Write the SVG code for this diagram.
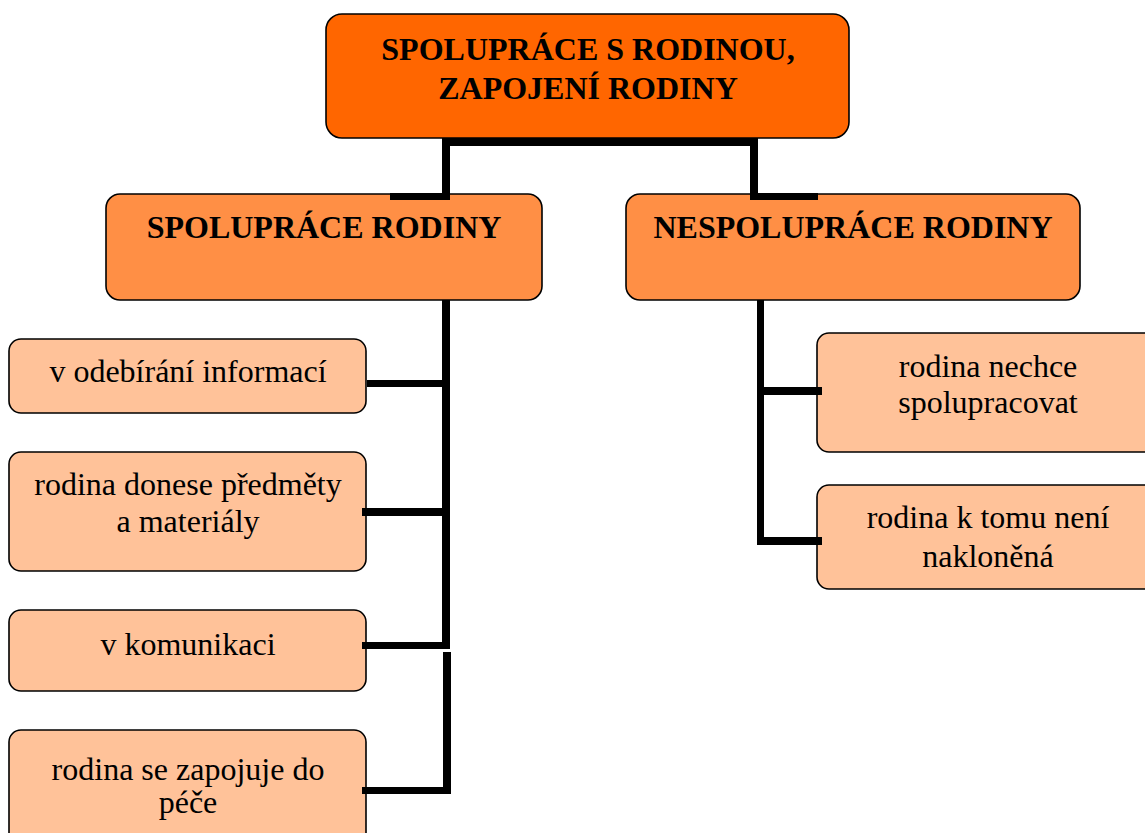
<svg xmlns="http://www.w3.org/2000/svg" width="1145" height="833" viewBox="0 0 1145 833">
  <style>
    .box { stroke: #000; stroke-width: 1.6; }
    .root { fill: #FF6600; }
    .mid { fill: #FF8F45; }
    .leaf { fill: #FFC299; }
    .bar { fill: #000; }
  </style>
  <rect width="1145" height="833" fill="#fff"/>

  <!-- root -->
  <g id="root" font-family="Liberation Serif, Tinos, DejaVu Serif, serif" font-weight="bold" font-size="32" text-anchor="middle">
    <rect class="box root" x="326" y="14" width="523" height="124" rx="16"/>
    <text x="588" y="60">SPOLUPRÁCE S RODINOU,</text>
    <text x="588" y="99">ZAPOJENÍ RODINY</text>
  </g>

  <!-- second level -->
  <g id="spoluprace" font-family="Liberation Serif, Tinos, DejaVu Serif, serif" font-weight="bold" font-size="32" text-anchor="middle">
    <rect class="box mid" x="106" y="194" width="436" height="106" rx="14"/>
    <text x="324" y="238">SPOLUPRÁCE RODINY</text>
  </g>
  <g id="nespoluprace" font-family="Liberation Serif, Tinos, DejaVu Serif, serif" font-weight="bold" font-size="32" text-anchor="middle">
    <rect class="box mid" x="626" y="194" width="454" height="106" rx="14"/>
    <text x="853" y="238">NESPOLUPRÁCE RODINY</text>
  </g>

  <!-- left leaves -->
  <g id="informace" font-family="Liberation Serif, Tinos, DejaVu Serif, serif" font-size="32" text-anchor="middle">
    <rect class="box leaf" x="9" y="339" width="357" height="74" rx="12"/>
    <text x="188" y="382">v odebírání informací</text>
  </g>
  <g id="predmety" font-family="Liberation Serif, Tinos, DejaVu Serif, serif" font-size="32" text-anchor="middle">
    <rect class="box leaf" x="9" y="452" width="357" height="119" rx="12"/>
    <text x="188" y="495">rodina donese předměty</text>
    <text x="188" y="532">a materiály</text>
  </g>
  <g id="komunikace" font-family="Liberation Serif, Tinos, DejaVu Serif, serif" font-size="32" text-anchor="middle">
    <rect class="box leaf" x="9" y="610" width="357" height="81" rx="12"/>
    <text x="188" y="655">v komunikaci</text>
  </g>
  <g id="pece" font-family="Liberation Serif, Tinos, DejaVu Serif, serif" font-size="32" text-anchor="middle">
    <rect class="box leaf" x="9" y="730" width="357" height="120" rx="12"/>
    <text x="188" y="780">rodina se zapojuje do</text>
    <text x="188" y="813">péče</text>
  </g>

  <!-- right leaves -->
  <g id="nechce" font-family="Liberation Serif, Tinos, DejaVu Serif, serif" font-size="32" text-anchor="middle">
    <rect class="box leaf" x="817" y="333" width="345" height="119" rx="12"/>
    <text x="988" y="377">rodina nechce</text>
    <text x="988" y="413">spolupracovat</text>
  </g>
  <g id="nenakloneni" font-family="Liberation Serif, Tinos, DejaVu Serif, serif" font-size="32" text-anchor="middle">
    <rect class="box leaf" x="817" y="485" width="345" height="104" rx="12"/>
    <text x="988" y="528">rodina k tomu není</text>
    <text x="988" y="567">nakloněná</text>
  </g>

  <!-- connectors -->
  <g id="connectors">
    <!-- root to second level -->
    <rect class="bar" x="442" y="138" width="316" height="8"/>
    <rect class="bar" x="442" y="138" width="8" height="62"/>
    <rect class="bar" x="750" y="138" width="8" height="62"/>
    <rect class="bar" x="390" y="193" width="60" height="7"/>
    <rect class="bar" x="750" y="193" width="68" height="7"/>
    <!-- left trunk -->
    <rect class="bar" x="442" y="300" width="8" height="349"/>
    <rect class="bar" x="367" y="380" width="83" height="7"/>
    <rect class="bar" x="362" y="508" width="80" height="8"/>
    <rect class="bar" x="362" y="642" width="88" height="7"/>
    <rect class="bar" x="443" y="652" width="8" height="142"/>
    <rect class="bar" x="362" y="787" width="89" height="7"/>
    <!-- right trunk -->
    <rect class="bar" x="757" y="300" width="7" height="245"/>
    <rect class="bar" x="757" y="387" width="65" height="8"/>
    <rect class="bar" x="757" y="537" width="65" height="8"/>
  </g>
</svg>
